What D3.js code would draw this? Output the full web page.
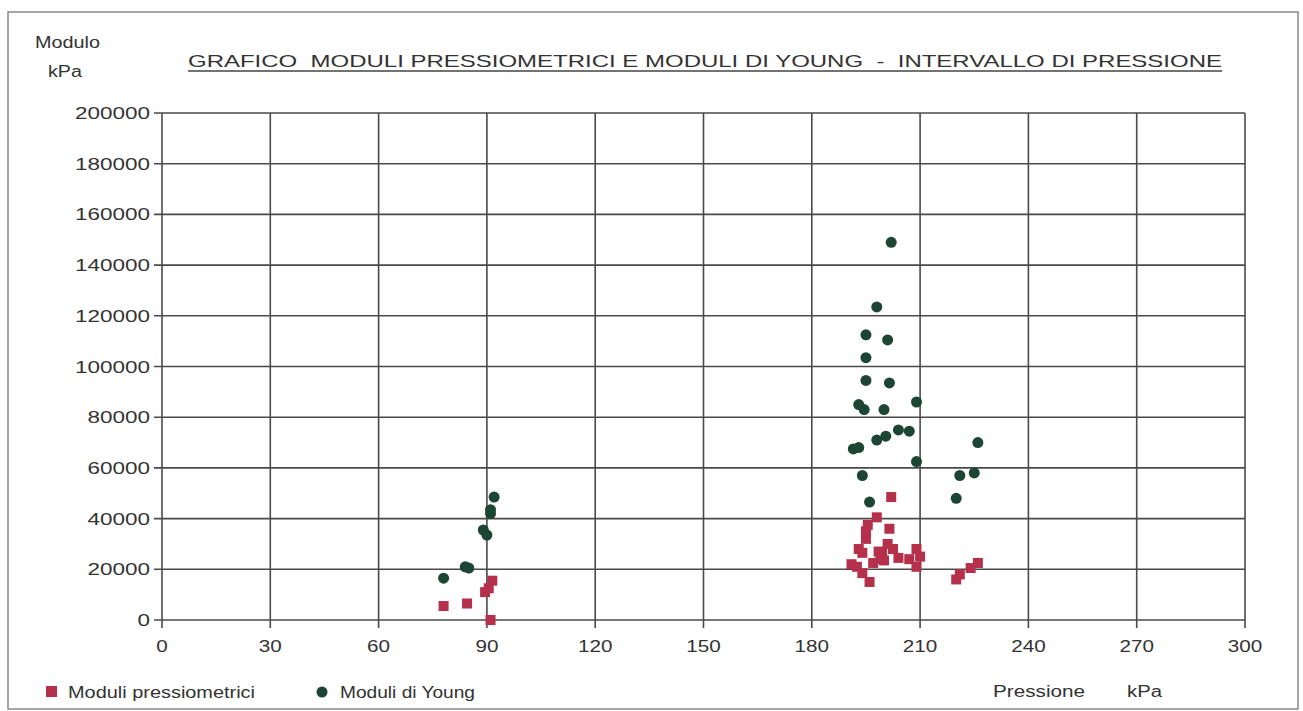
<!DOCTYPE html>
<html>
<head>
<meta charset="utf-8">
<script src="https://cdn.jsdelivr.net/npm/d3@7"></script>
<style>
  body { margin: 0; background: #fff; }
  text { font-family: "Liberation Sans", Arial, sans-serif; fill: #333; }
</style>
</head>
<body>
<script>
// data: [pressione kPa, modulo kPa]
var xTicks = [0, 30, 60, 90, 120, 150, 180, 210, 240, 270, 300];
var yTicks = [0, 20000, 40000, 60000, 80000, 100000, 120000, 140000, 160000, 180000, 200000];

var moduliPressiometrici = [
  [78, 5500], [84.5, 6500], [89.5, 11000], [90.5, 12500], [91.5, 15500], [91, 0],
  [191, 22000], [192.5, 21000], [193, 28000], [194, 26500], [194, 18500], [195, 32000],
  [195, 35000], [195.5, 37500], [196, 15000], [197, 22500], [198, 40500], [198.5, 27000],
  [199, 24000], [199.5, 26500], [200, 23500], [201, 30000], [201.5, 36000], [202, 48500],
  [202.5, 28000], [204, 24500], [207, 24000], [209, 28000], [209, 21000], [210, 25000],
  [220, 16000], [221, 18000], [224, 20500], [226, 22500]
];

var moduliYoung = [
  [78, 16500], [84, 21000], [85, 20500], [89, 35500], [90, 33500], [91, 42000],
  [91, 43500], [92, 48500],
  [202, 149000], [198, 123500], [195, 112500], [201, 110500], [195, 103500], [195, 94500],
  [201.5, 93500], [193, 85000], [194.5, 83000], [200, 83000], [209, 86000], [191.5, 67500],
  [193, 68000], [198, 71000], [200.5, 72500], [204, 75000], [207, 74500], [209, 62500],
  [194, 57000], [196, 46500], [226, 70000], [221, 57000], [225, 58000], [220, 48000]
];

var colRed = "#b5304a", colGreen = "#1c4535", colGrid = "#4a4a4a";

var width = 1303, height = 711;
var svg = d3.select("body").append("svg")
    .attr("width", width)
    .attr("height", height);

// outer frame
svg.append("rect")
    .attr("x", 8).attr("y", 12)
    .attr("width", 1290).attr("height", 697)
    .attr("fill", "none").attr("stroke", "#888").attr("stroke-width", 1.5);

var x = d3.scaleLinear().domain([0, 300]).range([162, 1245]);
var y = d3.scaleLinear().domain([0, 200000]).range([620, 113]);

// grid
svg.append("g").selectAll("line").data(yTicks).enter().append("line")
    .attr("x1", x(0) - 8).attr("x2", x(300))
    .attr("y1", function(d){ return y(d); }).attr("y2", function(d){ return y(d); })
    .attr("stroke", colGrid).attr("stroke-width", 1.6);
svg.append("g").selectAll("line").data(xTicks).enter().append("line")
    .attr("x1", function(d){ return x(d); }).attr("x2", function(d){ return x(d); })
    .attr("y1", y(200000)).attr("y2", y(0) + 8)
    .attr("stroke", colGrid).attr("stroke-width", 1.6);

// tick labels (the scanned font is wide, so stretch each label)
svg.append("g").selectAll("text").data(yTicks).enter().append("text")
    .attr("x", x(0) - 12)
    .attr("y", function(d){ return y(d) + 6; })
    .attr("text-anchor", "end")
    .attr("font-size", 17)
    .attr("textLength", function(d){ return String(d).length * 12.5; })
    .attr("lengthAdjust", "spacingAndGlyphs")
    .text(function(d){ return d; });
svg.append("g").selectAll("text").data(xTicks).enter().append("text")
    .attr("x", function(d){ return x(d); })
    .attr("y", 652)
    .attr("text-anchor", "middle")
    .attr("font-size", 17)
    .attr("textLength", function(d){ return String(d).length * 11.5; })
    .attr("lengthAdjust", "spacingAndGlyphs")
    .text(function(d){ return d; });

// points
svg.append("g").selectAll("rect").data(moduliPressiometrici).enter().append("rect")
    .attr("x", function(d){ return x(d[0]) - 5; })
    .attr("y", function(d){ return y(d[1]) - 5; })
    .attr("width", 10).attr("height", 10)
    .attr("fill", colRed);
svg.append("g").selectAll("circle").data(moduliYoung).enter().append("circle")
    .attr("cx", function(d){ return x(d[0]); })
    .attr("cy", function(d){ return y(d[1]); })
    .attr("r", 5.5)
    .attr("fill", colGreen);

// title and axis labels
function label(tx, ty, size, len, str){
    return svg.append("text").attr("x", tx).attr("y", ty)
        .attr("font-size", size).attr("textLength", len)
        .attr("lengthAdjust", "spacingAndGlyphs")
        .style("white-space", "pre")
        .text(str);
}
label(188, 67, 17, 1034, "GRAFICO  MODULI PRESSIOMETRICI E MODULI DI YOUNG  -  INTERVALLO DI PRESSIONE");
svg.append("line").attr("x1", 188).attr("x2", 1222).attr("y1", 71).attr("y2", 71)
    .attr("stroke", "#444").attr("stroke-width", 1.3);
label(35, 48, 16, 65, "Modulo");
label(48, 77, 16, 34, "kPa");
label(993, 697, 16, 92, "Pressione");
label(1127, 697, 16, 35, "kPa");

// legend
svg.append("rect").attr("x", 46).attr("y", 686).attr("width", 11).attr("height", 11).attr("fill", colRed);
label(68, 698, 16, 187, "Moduli pressiometrici");
svg.append("circle").attr("cx", 322).attr("cy", 692).attr("r", 5.5).attr("fill", colGreen);
label(340, 698, 16, 135, "Moduli di Young");
</script>
</body>
</html>
